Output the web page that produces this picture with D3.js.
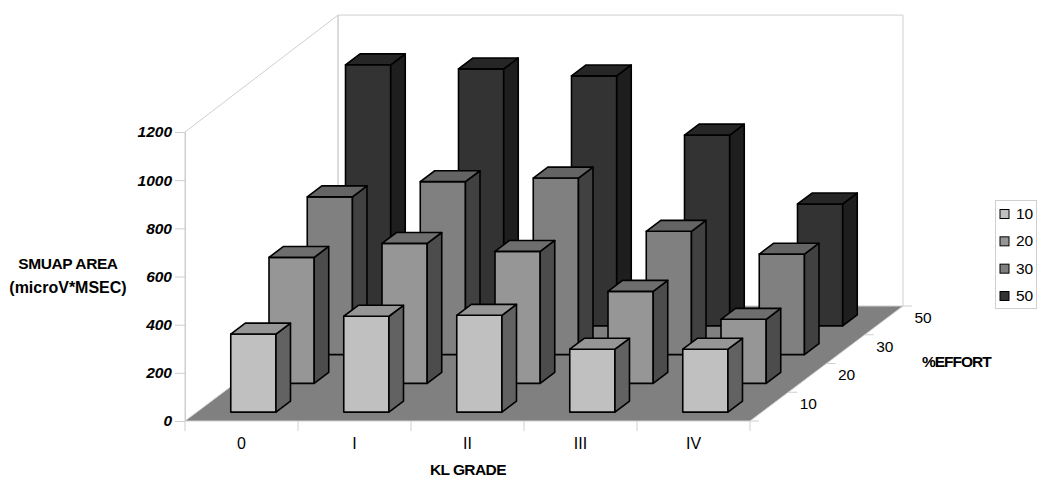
<!DOCTYPE html>
<html>
<head>
<meta charset="utf-8">
<script src="https://cdn.jsdelivr.net/npm/d3@7"></script>
<style>
  html, body { margin: 0; padding: 0; background: #fff; }
  svg { display: block; font-family: "Liberation Sans", Arial, sans-serif; }
</style>
</head>
<body>
<svg id="chart" width="1050" height="491"></svg>
<script>
const grades = ["0", "I", "II", "III", "IV"];
const efforts = ["10", "20", "30", "50"];
const yTicks = [0, 200, 400, 600, 800, 1000, 1200];

const area10 = [324, 398, 402, 261, 261];
const area20 = [523, 581, 548, 382, 266];
const area30 = [655, 718, 733, 512, 417];
const area50 = [1084, 1067, 1038, 792, 506];
const seriesValues = [area10, area20, area30, area50];

const frontFill = ["#c0c0c0", "#969696", "#808080", "#333333"];
const topFill = ["#969696", "#6e6e6e", "#646464", "#262626"];
const sideFill = ["#626262", "#4c4c4c", "#414141", "#1e1e1e"];

const svg = d3.select("#chart");

// front left corner of the floor and how far the floor runs back
const originX = 185;
const originY = 421;
const floorW = 565;
const backDx = 153;
const backDy = 115;

const x = d3.scaleBand().domain(grades).range([0, floorW]).paddingInner(0.6).paddingOuter(0.3);
const depth = d3.scaleBand().domain(efforts).range([0, 1]).paddingInner(0.62).paddingOuter(0.31);
const y = d3.scaleLinear().domain([0, 1200]).range([originY, 132]);

// position on the floor, z is 0 at the front and 1 at the back
const px = (xv, z) => originX + xv + z * backDx;
const py = (z, v) => y(v) - z * backDy;
const poly = (pts) => pts.map((p) => p.join(",")).join(" ");

const wallColor = "#cfcfcf";
const wallTop = 1200;
const backWallTop = 1208; // back wall runs a touch higher in the original

// walls
svg.append("polyline")
  .attr("points", poly([
    [px(0, 0), py(0, 0)], [px(0, 0), py(0, wallTop)], [px(0, 1), py(1, backWallTop)],
    [px(floorW, 1), py(1, backWallTop)], [px(floorW, 1), py(1, 0)],
  ]))
  .attr("fill", "none")
  .attr("stroke", wallColor);

svg.append("line")
  .attr("x1", px(0, 1)).attr("x2", px(0, 1))
  .attr("y1", py(1, 0)).attr("y2", py(1, backWallTop))
  .attr("stroke", wallColor)
  .attr("stroke-width", 1.5);

// floor
svg.append("polygon")
  .attr("points", poly([
    [px(0, 0), py(0, 0)], [px(floorW, 0), py(0, 0)],
    [px(floorW, 1), py(1, 0)], [px(0, 1), py(1, 0)],
  ]))
  .attr("fill", "#808080")
  .attr("stroke", wallColor);

// bars, back row first so the front rows cover them
const bars = [];
d3.reverse(efforts).forEach((effort) => {
  const s = efforts.indexOf(effort);
  grades.forEach((grade, i) => {
    bars.push({ grade, s, value: seriesValues[s][i], effort });
  });
});

const barG = svg.selectAll("g.bar")
  .data(bars)
  .join("g")
  .attr("class", "bar")
  .attr("stroke", "#000")
  .attr("stroke-width", 1.6)
  .attr("stroke-linejoin", "round");

const geom = (d) => {
  const x0 = x(d.grade);
  const x1 = x0 + x.bandwidth();
  const z0 = depth(d.effort);
  const z1 = z0 + depth.bandwidth();
  return { x0, x1, z0, z1 };
};

barG.append("polygon")
  .attr("fill", (d) => frontFill[d.s])
  .attr("points", (d) => {
    const g = geom(d);
    return poly([
      [px(g.x0, g.z0), py(g.z0, 0)], [px(g.x1, g.z0), py(g.z0, 0)],
      [px(g.x1, g.z0), py(g.z0, d.value)], [px(g.x0, g.z0), py(g.z0, d.value)],
    ]);
  });

barG.append("polygon")
  .attr("fill", (d) => sideFill[d.s])
  .attr("points", (d) => {
    const g = geom(d);
    return poly([
      [px(g.x1, g.z0), py(g.z0, 0)], [px(g.x1, g.z1), py(g.z1, 0)],
      [px(g.x1, g.z1), py(g.z1, d.value)], [px(g.x1, g.z0), py(g.z0, d.value)],
    ]);
  });

barG.append("polygon")
  .attr("fill", (d) => topFill[d.s])
  .attr("points", (d) => {
    const g = geom(d);
    return poly([
      [px(g.x0, g.z0), py(g.z0, d.value)], [px(g.x1, g.z0), py(g.z0, d.value)],
      [px(g.x1, g.z1), py(g.z1, d.value)], [px(g.x0, g.z1), py(g.z1, d.value)],
    ]);
  });

// value axis
const yAxis = svg.append("g")
  .attr("transform", `translate(${originX},0)`)
  .call(d3.axisLeft(y).tickValues(yTicks).tickSize(10).tickPadding(3).tickFormat(d3.format("d")));
yAxis.select(".domain").attr("stroke", wallColor);
yAxis.selectAll("line").attr("stroke", wallColor);
yAxis.selectAll("text")
  .attr("fill", "#000")
  .attr("font-family", "'Liberation Sans', Arial, sans-serif")
  .attr("font-size", 15.5)
  .attr("font-weight", "bold")
  .attr("font-style", "italic");

// grade axis
const step = x.step();
svg.append("g")
  .selectAll("line")
  .data(d3.range(grades.length + 1))
  .join("line")
  .attr("x1", (d) => originX + d * step)
  .attr("x2", (d) => originX + d * step)
  .attr("y1", originY)
  .attr("y2", originY + 10)
  .attr("stroke", wallColor);

svg.append("g")
  .selectAll("text")
  .data(grades)
  .join("text")
  .attr("x", (d) => px(x(d) + x.bandwidth() / 2, 0))
  .attr("y", 449)
  .attr("text-anchor", "middle")
  .attr("font-size", 16)
  .text((d) => d);

// effort axis
const zStep = depth.step();
svg.append("g")
  .selectAll("line")
  .data(d3.range(efforts.length + 1))
  .join("line")
  .attr("x1", (d) => px(floorW, d * zStep))
  .attr("x2", (d) => px(floorW, d * zStep) + 9)
  .attr("y1", (d) => py(d * zStep, 0))
  .attr("y2", (d) => py(d * zStep, 0))
  .attr("stroke", wallColor);

svg.append("g")
  .selectAll("text")
  .data(efforts)
  .join("text")
  .attr("x", (d) => px(floorW, depth(d) + depth.bandwidth() / 2) + 30.5)
  .attr("y", (d) => py(depth(d) + depth.bandwidth() / 2, 0) + 2.5)
  .attr("font-size", 15.5)
  .text((d) => d);

// axis titles
const titles = [
  { text: "SMUAP AREA", x: 68, y: 268.5, anchor: "middle", spacing: -0.4, size: 15.5 },
  { text: "(microV*MSEC)", x: 68, y: 292.5, anchor: "middle", spacing: 0, size: 16 },
  { text: "KL GRADE", x: 430, y: 474.5, anchor: "start", spacing: -0.6, size: 15.5 },
  { text: "%EFFORT", x: 922, y: 367, anchor: "start", spacing: -1, size: 15.5 },
];

svg.append("g")
  .selectAll("text")
  .data(titles)
  .join("text")
  .attr("x", (d) => d.x)
  .attr("y", (d) => d.y)
  .attr("text-anchor", (d) => d.anchor)
  .attr("letter-spacing", (d) => d.spacing)
  .attr("font-size", (d) => d.size)
  .attr("font-weight", "bold")
  .text((d) => d.text);

// legend
const legendY = d3.scalePoint().domain(efforts).range([213.5, 295.5]);

svg.append("rect")
  .attr("x", 995.5).attr("y", 200.5)
  .attr("width", 41).attr("height", 108)
  .attr("fill", "#fff")
  .attr("stroke", wallColor);

const legendRow = svg.selectAll("g.legend")
  .data(efforts)
  .join("g")
  .attr("class", "legend")
  .attr("transform", (d) => `translate(1000,${legendY(d)})`);

legendRow.append("rect")
  .attr("y", -4).attr("width", 9).attr("height", 9)
  .attr("fill", (d, i) => frontFill[i])
  .attr("stroke", "#000");

legendRow.append("text")
  .attr("x", 16)
  .attr("y", 5.5)
  .attr("font-size", 15.5)
  .text((d) => d);
</script>
</body>
</html>
